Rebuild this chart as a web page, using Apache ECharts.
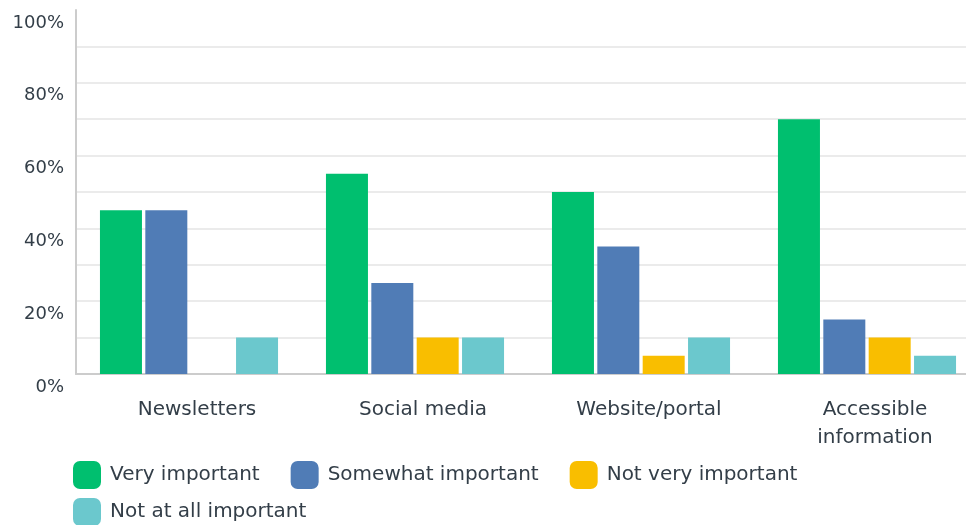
<!DOCTYPE html>
<html>
<head>
<meta charset="utf-8">
<script src="https://cdn.jsdelivr.net/npm/echarts@6/dist/echarts.min.js"></script>
<style>
  html, body { margin: 0; padding: 0; background: #fff; }
  #chart { width: 966px; height: 525px; }
</style>
</head>
<body>
<div id="chart"></div>
<script>
var categories = ['Newsletters', 'Social media', 'Website/portal', 'Accessible\ninformation'];
var seriesNames = ['Very important', 'Somewhat important', 'Not very important', 'Not at all important'];
var veryImportant = [45, 55, 50, 70];
var somewhatImportant = [45, 25, 35, 15];
var notVeryImportant = [0, 10, 5, 10];
var notAtAllImportant = [10, 10, 10, 5];
var colors = ['#00bf6f', '#507cb6', '#f9be00', '#6bc8cd'];

var textColor = '#333e48';
var font = 'DejaVu Sans';

var myChart = echarts.init(document.getElementById('chart'));
var values = [veryImportant, somewhatImportant, notVeryImportant, notAtAllImportant];
var series = [];
for (var i = 0; i < seriesNames.length; i++) {
    series.push({
        name: seriesNames[i],
        type: 'bar',
        barWidth: 42,
        barGap: '8%',
        itemStyle: { color: colors[i] },
        data: values[i]
    });
}

// grid lines every 10%, none drawn at the top (100%)
var splitColors = [];
for (var k = 0; k < 10; k++) splitColors.push('#ebebeb');
splitColors.push('rgba(0,0,0,0)');

function legendRow(top, names) {
    return {
        left: 68,
        top: top,
        itemWidth: 28,
        itemHeight: 28,
        itemGap: 31,
        icon: 'roundRect',
        textStyle: {
            color: textColor,
            fontFamily: font,
            fontSize: 20,
            padding: [0, 0, 0, 4]
        },
        data: names
    };
}

var option = {
    animation: false,
    color: colors,
    grid: {
        left: 76,
        width: 904,
        top: 10,
        bottom: 151,
        outerBoundsMode: 'none',
        containLabel: false
    },
    legend: [
        legendRow(456, seriesNames.slice(0, 3)),
        legendRow(493, seriesNames.slice(3))
    ],
    xAxis: {
        type: 'category',
        data: categories,
        axisTick: { show: false },
        axisLine: { lineStyle: { color: '#cccccc', width: 2 } },
        axisLabel: {
            color: textColor,
            fontFamily: font,
            fontSize: 20,
            lineHeight: 28,
            margin: 22,
            padding: [0, 0, 0, 16]
        }
    },
    yAxis: {
        type: 'value',
        min: 0,
        max: 100,
        interval: 10,
        axisLine: { show: true, lineStyle: { color: '#cccccc', width: 2 } },
        axisTick: { show: false },
        splitLine: { lineStyle: { color: splitColors, width: 2 } },
        axisLabel: {
            color: textColor,
            fontFamily: font,
            fontSize: 18,
            margin: 12,
            verticalAlign: 'top',
            padding: [4, 0, 0, 0],
            formatter: function (v) {
                return v % 20 === 0 ? v + '%' : '';
            }
        }
    },
    series: series
};

myChart.setOption(option, true);
</script>
</body>
</html>
